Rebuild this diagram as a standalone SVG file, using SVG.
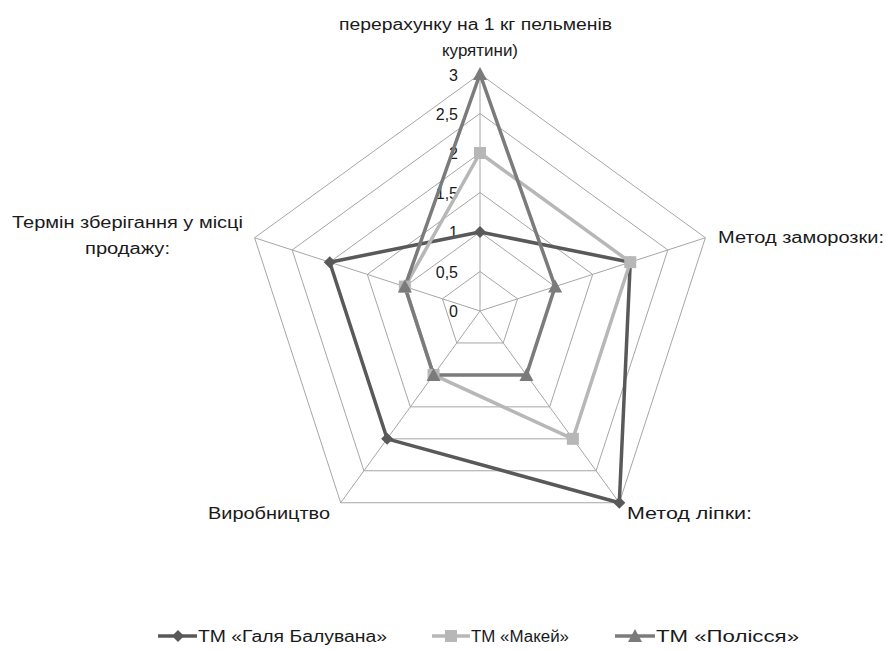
<svg xmlns="http://www.w3.org/2000/svg" width="886" height="650" viewBox="0 0 886 650">
<style>
.grid{fill:none;stroke:#a6a6a6;stroke-width:1}
.lbl{font-family:"Liberation Sans",Arial,sans-serif;font-size:16px;fill:#1a1a1a}
.tick{font-family:"Liberation Sans",Arial,sans-serif;font-size:16px;fill:#1a1a1a;text-anchor:end}
.s1{fill:none;stroke:#595959;stroke-width:3.5;stroke-linejoin:round}
.s2{fill:none;stroke:#b7b7b7;stroke-width:3.5;stroke-linejoin:round}
.s3{fill:none;stroke:#7b7b7b;stroke-width:3.5;stroke-linejoin:round}
.m1{fill:#595959}
.m2{fill:#b7b7b7}
.m3{fill:#7b7b7b}
</style>
<defs>
<path id="dia" d="M0,-6 L6,0 L0,6 L-6,0 Z"/>
<rect id="sq" x="-6" y="-6" width="12" height="12"/>
<path id="tri" d="M0,-7 L7,6 L-7,6 Z"/>
</defs>
<rect width="886" height="650" fill="#ffffff"/>
<g id="grid">
<polygon class="grid" points="480,271.5 517.57,298.79 503.22,342.96 456.78,342.96 442.43,298.79"/>
<polygon class="grid" points="480,232 555.13,286.59 526.44,374.91 433.56,374.91 404.87,286.59"/>
<polygon class="grid" points="480,192.5 592.70,274.38 549.65,406.87 410.35,406.87 367.30,274.38"/>
<polygon class="grid" points="480,153 630.27,262.17 572.87,438.83 387.13,438.83 329.73,262.17"/>
<polygon class="grid" points="480,113.5 667.83,249.97 596.09,470.78 363.91,470.78 292.17,249.97"/>
<polygon class="grid" points="480,74 705.40,237.76 619.31,502.74 340.69,502.74 254.60,237.76"/>
<path class="grid" d="M480,311 L480,74 M480,311 L705.40,237.76 M480,311 L619.31,502.74 M480,311 L340.69,502.74 M480,311 L254.60,237.76"/>
</g>
<g id="ticks">
<text class="tick" x="458" y="317">0</text>
<text class="tick" x="458" y="278">0,5</text>
<text class="tick" x="458" y="238">1</text>
<text class="tick" x="458" y="199">1,5</text>
<text class="tick" x="458" y="159">2</text>
<text class="tick" x="458" y="120">2,5</text>
<text class="tick" x="458" y="81">3</text>
</g>
<g id="axis-labels">
<text class="lbl" x="339" y="30" textLength="273" lengthAdjust="spacingAndGlyphs">перерахунку на 1 кг пельменів</text>
<text class="lbl" x="442" y="56" textLength="76" lengthAdjust="spacingAndGlyphs">курятини)</text>
<text class="lbl" x="12" y="228" textLength="231" lengthAdjust="spacingAndGlyphs">Термін зберігання у місці</text>
<text class="lbl" x="85" y="254" textLength="85" lengthAdjust="spacingAndGlyphs">продажу:</text>
<text class="lbl" x="718" y="243" textLength="166" lengthAdjust="spacingAndGlyphs">Метод заморозки:</text>
<text class="lbl" x="208" y="519" textLength="122" lengthAdjust="spacingAndGlyphs">Виробництво</text>
<text class="lbl" x="627" y="519" textLength="125" lengthAdjust="spacingAndGlyphs">Метод лiпки:</text>
</g>
<g id="connectors">
<polygon class="s1" points="480,232 630.27,262.17 619.31,502.74 387.13,438.83 329.73,262.17"/>
<polygon class="s2" points="480,153 630.27,262.17 572.87,438.83 433.56,374.91 404.87,286.59"/>
<polygon class="s3" points="480,74 555.13,286.59 526.44,374.91 433.56,374.91 404.87,286.59"/>
</g>
<g id="series-galya">
<use href="#dia" class="m1" x="480" y="232"/>
<use href="#dia" class="m1" x="630.27" y="262.17"/>
<use href="#dia" class="m1" x="619.31" y="502.74"/>
<use href="#dia" class="m1" x="387.13" y="438.83"/>
<use href="#dia" class="m1" x="329.73" y="262.17"/>
</g>
<g id="series-makei">
<use href="#sq" class="m2" x="480" y="153"/>
<use href="#sq" class="m2" x="630.27" y="262.17"/>
<use href="#sq" class="m2" x="572.87" y="438.83"/>
<use href="#sq" class="m2" x="433.56" y="374.91"/>
<use href="#sq" class="m2" x="404.87" y="286.59"/>
</g>
<g id="series-polissya">
<use href="#tri" class="m3" x="480" y="74"/>
<use href="#tri" class="m3" x="555.13" y="286.59"/>
<use href="#tri" class="m3" x="526.44" y="374.91"/>
<use href="#tri" class="m3" x="433.56" y="374.91"/>
<use href="#tri" class="m3" x="404.87" y="286.59"/>
</g>
<g id="legend">
<path class="s1" d="M158,636 H197"/>
<use href="#dia" class="m1" x="178" y="636"/>
<text class="lbl" x="198" y="642" textLength="189" lengthAdjust="spacingAndGlyphs">ТМ «Галя Балувана»</text>
<path class="s2" d="M432,636 H470"/>
<use href="#sq" class="m2" x="451" y="636"/>
<text class="lbl" x="471" y="642" textLength="98" lengthAdjust="spacingAndGlyphs">ТМ «Макей»</text>
<path class="s3" d="M615,636 H655"/>
<use href="#tri" class="m3" x="635" y="636"/>
<text class="lbl" x="656" y="642" textLength="143" lengthAdjust="spacingAndGlyphs">ТМ «Полісся»</text>
</g>
</svg>
